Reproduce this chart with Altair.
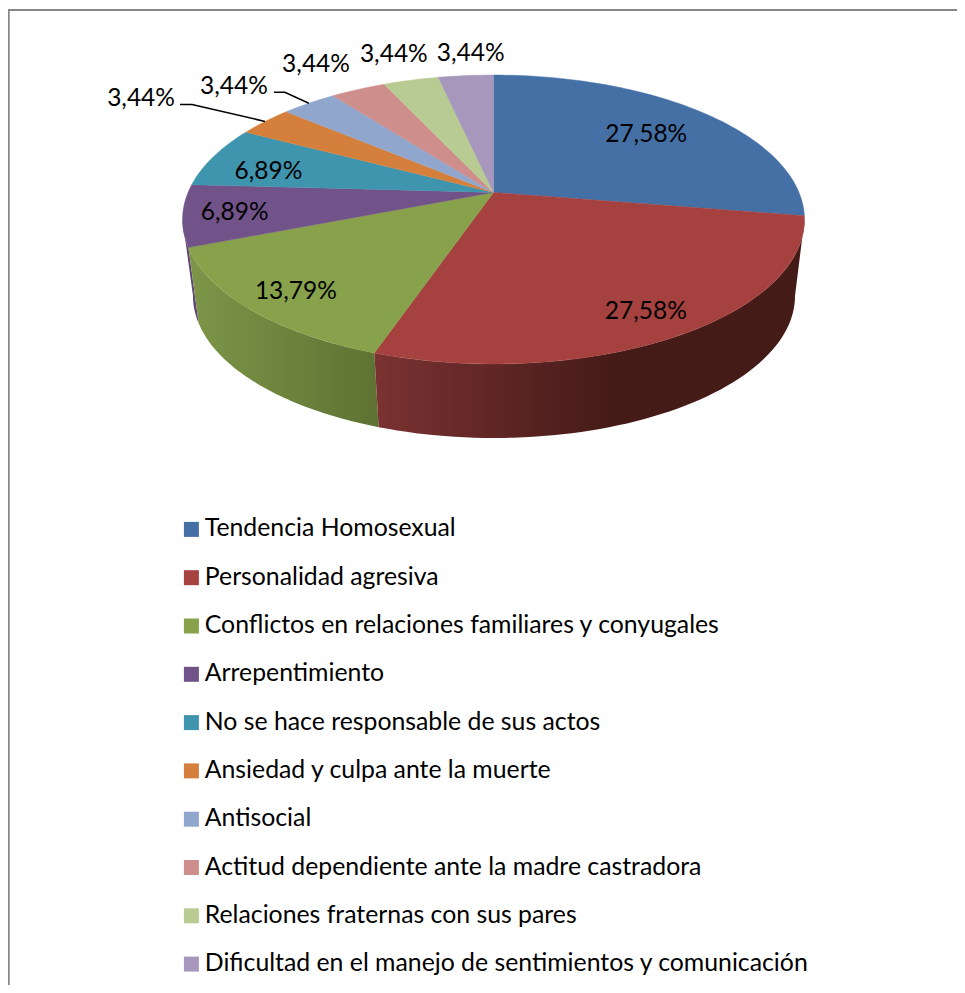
import math
import altair as alt
import pandas as pd

CATEGORIES = [
    "Tendencia Homosexual", "Personalidad agresiva",
    "Conflictos en relaciones familiares y conyugales", "Arrepentimiento",
    "No se hace responsable de sus actos", "Ansiedad y culpa ante la muerte",
    "Antisocial", "Actitud dependiente ante la madre castradora",
    "Relaciones fraternas con sus pares",
    "Dificultad en el manejo de sentimientos y comunicación",
]
VALUES = [27.58, 27.58, 13.79, 6.89, 6.89, 3.44, 3.44, 3.44, 3.44, 3.44]
COLORS = ["#4470A6", "#A54240", "#87A24B", "#725389", "#3F94AE",
          "#D4803C", "#91A6CD", "#CD8E8C", "#B8CB93", "#A797BC"]
LABEL_DX = [-55, -35, 46, 52, 55, -124, -75, -42, -17, 5]
LABEL_DY = [23, -23, -17, -2, 15, -22, -16, -24, -25, -22]

FONT = "Lato"
CX, CY, RX, RY, A = 493.5, 219.5, 311.0, 144.5, 0.1875      # top face
BCX, BCY, BRX, BRY = 494.0, 296.0, 301.0, 142.0             # bottom rim


def project(theta, r=1.0):
    """Tilted-disc projection of a pie angle, clockwise from 12 o'clock."""
    x, y = r * math.sin(theta), r * math.cos(theta)
    den = 1 + A * y
    return x * math.sqrt(1 - A * A) / den, (y + A) / den


def screen(theta, r=1.0):
    u, v = project(theta, r)
    return CX + RX * u, CY - RY * v


total = sum(VALUES)
edges = [0.0]
for v in VALUES:
    edges.append(edges[-1] + v / total * 2 * math.pi)

# Top-face sectors
top_rows = []
for i, name in enumerate(CATEGORIES):
    a0, a1 = edges[i], edges[i + 1]
    n = max(4, int((a1 - a0) / math.radians(1.5)))
    pts = [screen(0, 0)] + [screen(a0 + (a1 - a0) * k / n) for k in range(n + 1)]
    for k, (x, y) in enumerate(pts):
        top_rows.append({"name": name, "x": x, "y": y, "o": k})
top_df = pd.DataFrame(top_rows)


def phi_of(theta):
    u, v = project(theta)
    return math.atan2(-v, u)


def wall_frame(idx):
    p0 = max(0.0, phi_of(edges[idx]))
    p1 = phi_of(edges[idx + 1])
    if p1 < 0:
        p1 += 2 * math.pi
    p1 = min(p1, math.pi)
    n = 60
    fs = [p0 + (p1 - p0) * k / n for k in range(n + 1)]
    pts = [(CX + RX * math.cos(f), CY + RY * math.sin(f)) for f in fs]
    pts += [(BCX + BRX * math.cos(f), BCY + BRY * math.sin(f)) for f in reversed(fs)]
    return pd.DataFrame({"x": [p[0] for p in pts], "y": [p[1] for p in pts],
                         "o": list(range(len(pts)))})


# Labels anchored on each slice's rim midpoint
label_rows = []
for i, v in enumerate(VALUES):
    rx_, ry_ = screen((edges[i] + edges[i + 1]) / 2)
    label_rows.append({
        "x": rx_ + LABEL_DX[i], "y": ry_ + LABEL_DY[i],
        "t": f"{v:.2f}".replace(".", ",") + "%",
    })
label_df = pd.DataFrame(label_rows)

# Leader lines for the two slices whose labels sit far away
LEADERS = [(5, [(0, 0), (-73, -17), (-85, -17)]), (6, [(0, 0), (-24, -11), (-35, -11)])]
lead_rows = []
for i, offs in LEADERS:
    rx_, ry_ = screen((edges[i] + edges[i + 1]) / 2)
    for o, (dx, dy) in enumerate(offs):
        lead_rows.append({"g": i, "o": o, "x": rx_ + dx, "y": ry_ + dy})
lead_df = pd.DataFrame(lead_rows)

X = alt.X("x:Q", axis=None, scale=alt.Scale(domain=[8, 957]))
Y = alt.Y("y:Q", axis=None, scale=alt.Scale(domain=[985, 8]))
ORDER = alt.Order("o:Q")

border_df = pd.DataFrame({"x": [8.7, 8.7, 957], "y": [985, 10, 10], "o": [0, 1, 2]})
border = alt.Chart(border_df).mark_line(color="#868686", strokeWidth=2, clip=False).encode(
    x=X, y=Y, order=ORDER)


def wall(idx, stops):
    grad = alt.Gradient(
        gradient="linear", x1=0, x2=1, y1=0, y2=0,
        stops=[alt.GradientStop(offset=o, color=c) for o, c in stops],
    )
    return alt.Chart(wall_frame(idx)).mark_line(
        interpolate="linear-closed", fill=grad, stroke=None, strokeWidth=0
    ).encode(x=X, y=Y, order=ORDER)


wall_red = wall(1, [(0, "#7b3232"), (0.55, "#451b18"), (1, "#451b18")])
wall_green = wall(2, [(0, "#7d9648"), (1, "#5e7233")])
wall_purple = wall(3, [(0, "#5f4474"), (1, "#5f4474")])

color_scale = alt.Scale(domain=CATEGORIES, range=COLORS)
top = alt.Chart(top_df).mark_line(interpolate="linear-closed", strokeWidth=0.4).encode(
    x=X, y=Y, order=ORDER,
    fill=alt.Fill("name:N", scale=color_scale, sort=CATEGORIES, legend=alt.Legend(
        title=None, orient="none", legendX=171, legendY=509, columns=1,
        symbolType="square", symbolSize=225, symbolStrokeWidth=0,
        labelFont=FONT, labelFontSize=24.8, labelColor="#000000", labelLimit=800,
        rowPadding=22.3, labelOffset=1, symbolOffset=0, padding=0,
    )),
    stroke=alt.Stroke("name:N", scale=color_scale, legend=None),
)

leaders = alt.Chart(lead_df).mark_line(color="#000000", strokeWidth=1.5).encode(
    x=X, y=Y, order=ORDER, detail="g:N")
labels = alt.Chart(label_df).mark_text(
    font=FONT, fontSize=24.5, color="#000000", align="center", baseline="middle"
).encode(x=X, y=Y, text="t:N")

chart = alt.layer(border, wall_purple, wall_green, wall_red, top, leaders, labels).properties(
    width=949, height=977, padding=0, background="#ffffff",
    autosize=alt.AutoSizeParams(type="none"),
).configure_view(stroke=None)

chart.save("out.html", embed_options={"renderer": "svg", "actions": False})
